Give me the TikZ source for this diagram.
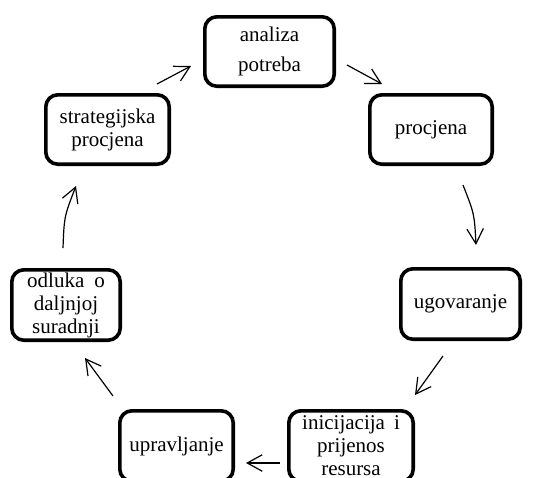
\documentclass[tikz,border=0pt]{standalone}
\usepackage{fontspec}
\setmainfont{Liberation Serif}
\usetikzlibrary{arrows.meta,calc}
\begin{document}
\begin{tikzpicture}[x=1pt,y=-1pt,
  box/.style={draw, line width=3.6pt, rounded corners=12pt, inner sep=0pt,
    align=center, font=\fontsize{21}{23}\selectfont},
  arr/.style={line width=1.2pt, -{Straight Barb[length=15pt,width=16.5pt]}}]
\clip (0,0) rectangle (533,477);
\fill[white] (0,0) rectangle (533,477);
\node[box, minimum width=129.4pt, minimum height=69.4pt] (anal) at (269.5,51.5) {analiza\\[7pt]potreba};
\node[box, minimum width=123.4pt, minimum height=69.4pt] (strat) at (107.5,129.5) {strategijska\\procjena};
\node[box, minimum width=122.4pt, minimum height=69.4pt] (proc) at (431,129.5) {procjena};
\node[box, minimum width=119.4pt, minimum height=70.4pt] (ugov) at (460.5,304) {ugovaranje};
\node[box, minimum width=108.4pt, minimum height=70.4pt] (odl) at (66,305) {odluka\hspace{10pt}o\\daljnjoj\\suradnji};
\node[box, minimum width=113.4pt, minimum height=70.4pt] (uprav) at (176.5,446) {upravljanje};
\node[box, minimum width=124.4pt, minimum height=70.4pt] (inic) at (351,446) {inicijacija\hspace{9pt}i\\prijenos\\resursa};

\draw[arr] ($(strat.north east)+(-14,-9)$) -- ($(anal.west)+(-12,14.5)$);
\draw[arr] ($(anal.east)+(11,13.5)$) -- ($(proc.north west)+(14,-9)$);
\draw[arr] ($(proc.south)+(32,19)$) .. controls ($(proc.south)+(43.4,48)$) .. ($(ugov.north)+(15.5,-22)$);
\draw[arr] ($(ugov.south)+(-17.5,15)$) -- ($(inic.north)+(64,-14)$);
\draw[arr] ($(inic.west)+(-7,17)$) -- ($(uprav.east)+(11,17)$);
\draw[arr] ($(uprav.north)+(-63.5,-13)$) -- ($(odl.south)+(19,16)$);
\draw[arr] ($(odl.north)+(-3,-20)$) .. controls ($(odl.north)+(-1.8,-51.6)$) .. ($(strat.south)+(-31.5,20)$);
\end{tikzpicture}
\end{document}
